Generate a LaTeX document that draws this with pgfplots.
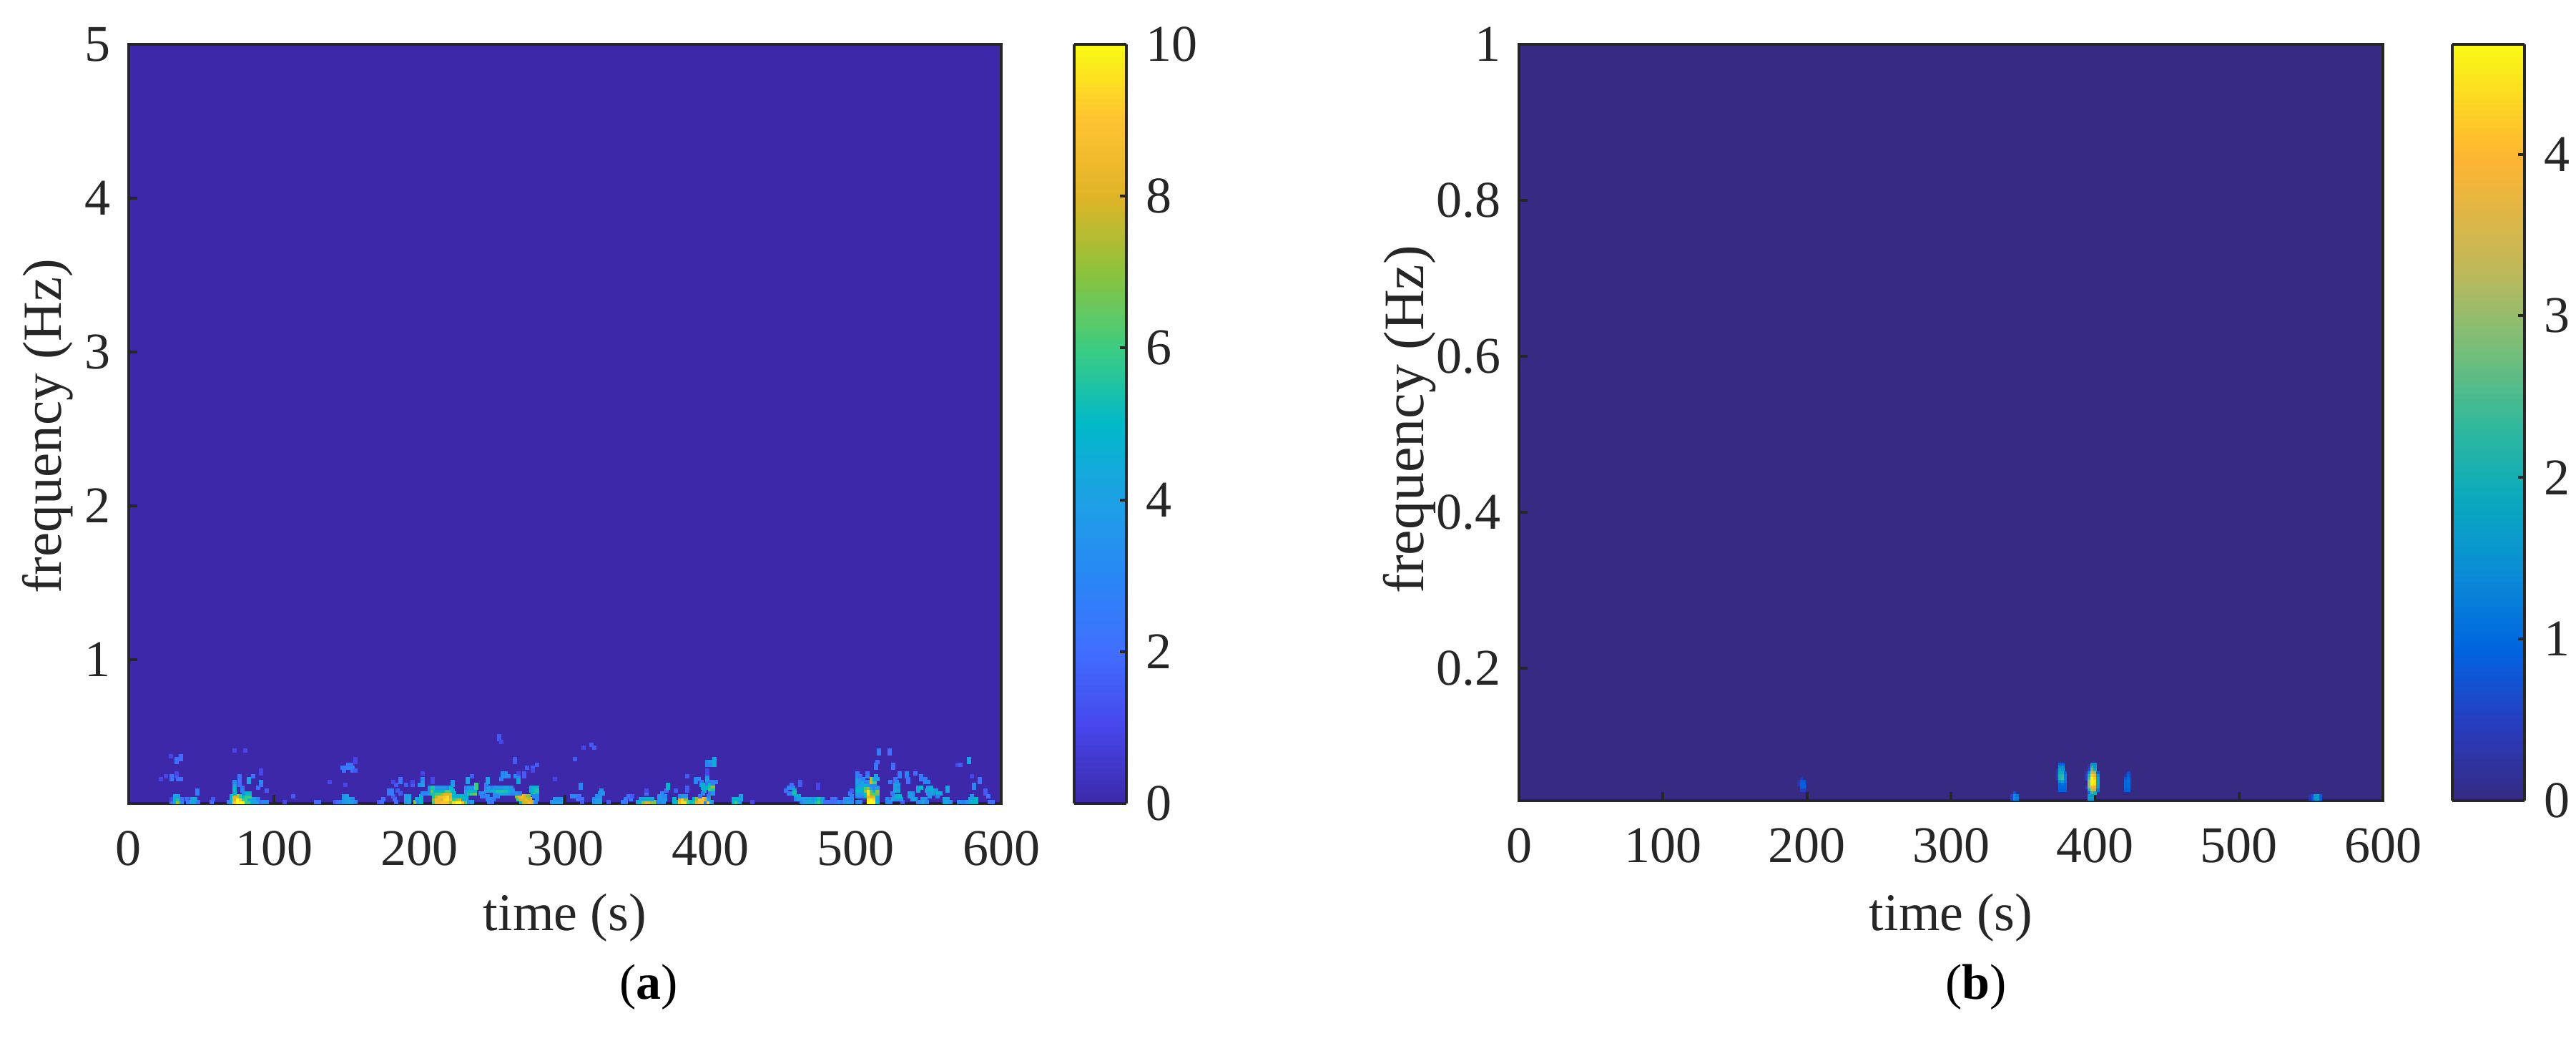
\documentclass[border=0pt]{standalone}
\usepackage{fontspec}
\setmainfont{Liberation Serif}
\usepackage{pgfplots}
\usepackage{pgfplotstable}
\pgfplotsset{compat=1.18}
\definecolor{axc}{HTML}{262626}
\pgfplotsset{
  colormap={pa}{rgb255(0cm)=(60,40,168); rgb255(1cm)=(70,70,235); rgb255(2cm)=(65,110,255); rgb255(3cm)=(40,135,245); rgb255(4cm)=(30,160,230); rgb255(5cm)=(0,185,200); rgb255(6cm)=(60,205,130); rgb255(7cm)=(140,195,60); rgb255(8cm)=(225,180,40); rgb255(9cm)=(255,195,50); rgb255(10cm)=(250,250,20)},
  colormap={pb}{rgb255(0cm)=(54,42,130); rgb255(1cm)=(40,60,190); rgb255(2cm)=(0,100,225); rgb255(3cm)=(10,140,215); rgb255(4cm)=(10,170,190); rgb255(5cm)=(50,185,155); rgb255(6cm)=(120,190,120); rgb255(7cm)=(190,185,90); rgb255(8.5cm)=(255,180,50); rgb255(10cm)=(250,250,20)},
  myax/.style={
    scale only axis, axis on top,
    axis line style={color=axc,line width=0.8pt},
    every tick/.style={color=axc,line width=0.8pt},
    tick align=inside, tick pos=left, major tick length=2.4pt,
    tick label style={font=\fontsize{14.4}{14.4}\selectfont,text=axc,/pgf/number format/assume math mode=true},
    xmin=0,xmax=600,xtick={0,100,...,600},
    xticklabel style={yshift=-4.2pt},
    yticklabel style={xshift=-1.6pt},
    xlabel={time (s)}, ylabel={frequency (Hz)},
  },
  mycb/.style={
    axis line style={color=axc,line width=0.8pt},
    every tick/.style={color=axc,line width=0.8pt},
    tick align=inside, ytick pos=right, major tick length=1.8pt,
    samples=129,
    yticklabel style={font=\fontsize{14.4}{14.4}\selectfont,text=axc,/pgf/number format/assume math mode=true,xshift=2pt},
  },
  mycells/.style={scatter, only marks, mark=square*, point meta=explicit,
    scatter/use mapped color={draw=mapped color,fill=mapped color,line width=0pt}},
}
\pgfplotstableread{
t f v
29.5 .074 2
31.8 .074 4
34 .074 7
36.3 .074 3
29.5 .093 1
31.8 .093 4.5
34 .093 5.5
36.3 .093 2
31.8 .111 4
34 .111 4
41 .074 2.5
43.3 .074 4
45.6 .074 4.5
47.9 .074 2
40 .093 2
43.3 .093 4
45.6 .093 4.5
47 .130 2.5
47 .148 2.5
57 .074 2
58 .093 1.5
22 .223 1
29.5 .223 2.5
34 .223 2
36 .223 2
25.5 .241 1
29.5 .241 2
33 .241 1.5
33 .260 1
33 .353 2
36 .353 2
36 .372 2
29 .372 1
33 .334 2
73 .409 1
80 .409 1
69 .074 3
71 .074 4
73 .074 9
75 .074 10
77 .074 10
79 .074 10
81 .074 6
83 .074 6
85 .074 5
87 .074 4
89 .074 4
91 .074 2
93 .074 3
95 .074 3
71 .093 5
73 .093 8
75 .093 10
77 .093 9
79 .093 6
81 .093 6
83 .093 5
85 .093 4
87 .093 4
89 .093 3
71 .111 5
73 .111 8
75 .111 8
77 .111 6
79 .111 5
81 .111 6
83 .111 6
73 .130 5
79 .130 3
81 .130 5
83 .130 5
73 .148 5
78 .148 3
73 .167 5
78 .167 2.5
73 .186 4
76 .186 2
73 .204 3
76 .204 2
76 .223 2
82.6 .223 4
76 .241 2
82.6 .204 4
85.5 .241 2
91 .186 2.5
91 .204 3
89 .167 2
91 .260 1
91 .279 1
95 .148 1.5
113 .111 1.5
107 .074 1
129 .074 2
131 .074 2
142 .074 1.5
144 .074 2
146 .074 2.5
148 .074 3.5
150 .074 4
152 .074 4
154 .074 4
156 .074 3
148 .093 3.5
150 .093 4
152 .093 4
154 .093 3.5
148 .111 3.5
150 .111 4
147 .297 2.5
150 .297 3
152 .297 3
154 .297 3
151 .316 2
153 .316 2
148 .279 2
154 .279 2
156 .279 1.5
156 .334 1
156 .353 1
138 .204 1
149 .186 1
172 .074 1.5
174 .074 2
175 .093 2
184 .074 2
183 .093 2
182 .111 1.5
191 .074 3.5
193 .074 4
191 .093 4
193 .093 4.5
191 .111 4
193 .111 4
187 .130 1.5
197 .074 7
199 .074 3
201 .074 5
201 .093 5
198 .093 4
201 .111 4.5
179 .130 2.5
181 .130 2.5
179 .148 2.5
181 .148 2.5
185 .148 1.5
184 .186 1.5
182 .204 1
187 .204 2.5
187 .223 2
191 .186 1.5
195 .186 1.5
195 .204 1
202 .186 4
200 .186 3.5
202 .204 3.5
202 .223 3
202 .260 1
209 .204 1
209 .223 1
210 .074 6
212 .074 8.5
214 .074 8.5
216 .074 9
218 .074 9
220 .074 9
222 .074 7
224 .074 9.5
226 .074 10
228 .074 10
230 .074 9
232 .074 6
234 .074 3
236 .074 4
210 .093 7
212 .093 8.5
214 .093 8.5
216 .093 8
218 .093 9.5
220 .093 9.5
222 .093 8.5
224 .093 6
226 .093 7
228 .093 8
230 .093 5
232 .093 4
210 .111 5.5
212 .111 7.5
214 .111 8.5
216 .111 8.5
218 .111 9
220 .111 9.5
222 .111 8
224 .111 5
226 .111 4.5
228 .111 5
230 .111 5
232 .111 5
202 .130 3
205 .130 3
207 .130 3.5
209 .130 5.5
212 .130 6
214 .130 6
216 .130 7
218 .130 8
220 .130 8
222 .130 8
224 .130 5
207 .148 3
209 .148 6.5
211 .148 5
213 .148 5
215 .148 5
217 .148 5
219 .148 6
221 .148 6
223 .148 5
207 .167 3.5
209 .167 5.5
212 .167 3.5
214 .167 3.5
216 .167 3.5
218 .167 3.5
220 .167 3
222 .167 5
223 .186 4
223 .204 3.5
232 .130 4
234 .130 5.5
236 .130 6
238 .130 6.5
232 .148 4
234 .148 5
236 .148 5
238 .148 5
232 .167 3
234 .167 3.5
236 .167 3.5
239 .167 6
239 .186 6
233 .204 4
233 .223 4
236 .241 1.5
242 .130 3
244 .130 3.5
243 .111 3
245 .111 2
247 .111 3
247 .093 3
249 .093 3
248 .074 3
250 .074 2
246 .148 4
248 .148 4.5
250 .148 4.5
246 .167 3
248 .167 4
250 .167 3
246 .186 2.5
247 .204 4
247 .223 4
252 .130 3.5
254 .130 4
256 .130 4.5
258 .130 4.5
260 .130 4
262 .130 3.5
264 .130 3
252 .148 5
254 .148 5.5
256 .148 5.5
258 .148 5.5
260 .148 5.5
262 .148 5
264 .148 3.5
253 .167 3.5
255 .167 3.5
257 .167 3.5
259 .167 4
261 .167 4
263 .167 3.5
252 .111 3
254 .111 3
251 .093 2.5
257 .241 3.5
259 .241 3.5
261 .241 3
257 .260 3
259 .260 3
256 .223 2.5
268 .223 4
266 .241 3
268 .241 3
268 .204 4.5
268 .260 1
265.5 .334 1.5
265.5 .353 1.5
274 .297 1.5
278 .297 1.5
278 .279 1
281 .316 1.5
272 .241 1.5
272 .260 1.5
277 .167 4
279 .167 5
281 .167 4.5
278 .130 5
280 .130 6
281 .130 5
277 .148 4
279 .148 5
281 .148 5.5
279 .111 3
281 .111 3
270 .074 5
272 .074 7.5
274 .074 8
276 .074 8.5
278 .074 8
268 .093 6
270 .093 8
272 .093 8
274 .093 8.5
276 .093 8
267 .111 7
269 .111 8
271 .111 8.5
273 .111 8
275 .111 7
267 .130 3.5
269 .130 3
280 .074 3
281 .093 3
291 .074 3.5
293 .074 4
295 .074 4
297 .074 4
293 .093 3.5
295 .093 3.5
297 .093 3.5
293 .223 1
254.6 .483 1.5
254.6 .502 1.5
256 .465 1
313 .427 1
318 .446 1.5
320 .427 1.5
307 .353 1.5
311 .167 3
311 .186 3
305 .111 3
308 .111 3
310 .111 2
309 .093 2
312 .093 2
312 .074 1.5
320 .074 3.5
322 .074 4
324 .074 4
320 .093 3
322 .093 4
324 .093 4
322 .111 3
324 .111 3.5
324 .130 3
326 .130 3.5
325 .148 3.5
330 .074 1.5
340 .074 2.5
342 .074 2.5
342 .093 2.5
345 .093 2.5
344 .111 2
346 .111 1.5
350 .074 4.5
352 .074 5
354 .074 7
356 .074 8
358 .074 8
360 .074 7
362 .074 7
352 .093 4
354 .093 4
356 .093 5
358 .093 5
360 .093 4
356 .130 2
356 .148 1
364 .074 3
366 .074 3
368 .074 3.5
365 .093 3.5
367 .093 3.5
369 .093 3.5
365 .111 3.5
367 .111 3.5
369 .111 3
367 .130 3
370 .148 2
371 .167 5
371 .186 5
376 .148 1.5
375 .074 5
377 .074 5
379 .074 8.5
381 .074 9.5
383 .074 9.5
385 .074 6
375 .093 5
379 .093 8
381 .093 9
383 .093 7
379 .111 3
381 .111 3.5
383 .111 3.5
384 .148 1.5
384 .167 1.5
384 .241 1.5
387 .074 5
389 .074 5.5
391 .074 8
393 .074 8.5
395 .074 9
397 .074 3
399 .074 9
401 .074 4
389 .093 5
391 .093 7
393 .093 9
395 .093 9
397 .093 8
399 .093 4
393 .111 2
399 .111 3
390 .223 3
392 .223 3
390 .204 3
394 .204 2
398 .204 3
400 .204 2.5
402 .204 2.5
404 .204 2.5
394 .186 4
396 .186 5
398 .186 2
400 .186 5
402 .186 3
395 .167 4.5
397 .167 5
400 .167 5.5
402 .167 7
396 .148 5
400 .148 6
402 .148 5.5
395 .130 3
400 .130 2
402 .130 3.5
398 .223 4
398 .241 3.5
398 .334 3
400 .334 3.5
403 .353 4
403 .334 4.5
403 .316 4.5
398 .316 3
400 .316 3
398 .279 1
398 .260 1
416 .074 5
418 .074 6
420 .074 4
416 .093 5
418 .093 5
421 .093 4
421 .111 4
429 .074 1
452 .148 2
454 .130 2.5
456 .130 2.5
454 .167 3
457 .167 3
456 .186 2
458 .148 5
458 .130 5.5
459 .111 4.5
461 .111 5
459 .093 3
461 .093 4
463 .093 4
465 .093 4
463 .074 3
465 .074 4
467 .074 4.5
469 .074 4.5
471 .074 4
473 .074 5.5
475 .074 6
477 .074 4.5
467 .093 4
469 .093 4.5
471 .093 3.5
473 .093 5
475 .093 5.5
477 .093 4
462 .204 1.5
462 .186 1.5
474 .167 1
474 .186 1
479 .074 2
481 .074 2
483 .074 2
485 .074 2
487 .074 2.5
489 .074 3
491 .074 2
493 .074 3.5
495 .074 4
497 .074 3.5
484 .093 2
486 .093 2
493 .093 3.5
495 .093 3.5
497 .093 3
496 .130 2.5
497 .111 3
497 .148 1.5
501 .074 3
503 .074 3
509 .074 10
511 .074 10
513 .074 10
515 .074 5
509 .093 9.5
511 .093 10
513 .093 9.5
515 .093 4
501 .111 3
503 .111 3
505 .111 2.5
507 .111 5
509 .111 8.5
511 .111 8
513 .111 8
515 .111 4.5
501 .130 4
503 .130 3.5
505 .130 4
507 .130 5
509 .130 9.5
511 .130 7
513 .130 6
515 .130 6.5
501 .148 5
503 .148 5
505 .148 4.5
507 .148 7
509 .148 9.5
511 .148 6.5
513 .148 4.5
515 .148 7
501 .167 5
503 .167 4.5
505 .167 5
507 .167 6
509 .167 7
511 .167 4
513 .167 3
515 .167 4
501 .186 3.5
503 .186 4
505 .186 4
507 .186 5
509 .186 4
511 .186 3
513 .186 3
501 .204 4
503 .204 3.5
505 .204 4.5
507 .204 3
509 .204 3
511 .204 8
513 .204 6
501 .223 4
503 .223 3.5
505 .223 3
511 .223 7.5
513 .223 4.5
515 .223 4
501 .241 3
503 .241 2
508 .241 3
514 .241 4
501 .260 2.5
508 .260 2
514 .297 2.5
514 .316 2.5
515 .334 2
516 .390 2.5
516 .409 2.5
523.5 .390 2
523.5 .409 2
525.5 .297 2
525.5 .316 2
522 .074 3
524 .074 3
532 .074 1.5
522 .093 3
525 .093 4
528 .093 3.5
531 .093 3.5
526 .111 3.5
528 .111 5
530 .111 5
525 .130 2.5
524 .204 2.5
527 .204 1.5
527 .223 2
527 .148 4.5
529 .148 4.5
527 .186 4.5
529 .186 4
528 .204 3
527 .167 4
529 .167 3.5
530 .241 2.5
535 .241 3
530 .260 2.5
535 .260 3
536 .204 2
536 .223 2
537 .111 4
539 .111 3.5
537 .130 4
539 .130 3.5
539 .093 4
541 .093 4
541 .260 2
545 .241 2.5
545 .223 2.5
548 .223 2.5
548 .204 3
550 .204 3
543 .167 4
545 .167 5
550 .167 3.5
552 .167 4
543 .148 4.5
549 .148 4
551 .148 5
553 .148 5
555 .148 3.5
550 .130 3.5
553 .130 4
556 .130 5
558 .130 4.5
551 .111 3.5
556 .111 3
546 .093 3.5
548 .093 3.5
543 .074 3
545 .074 3.5
547 .074 4
549 .074 3
561 .074 4
563 .074 4.5
565 .074 3.5
561 .093 4
563 .093 4
563 .148 4
563 .167 4
578 .353 4
578 .334 4
570 .316 1
572 .316 1.5
571 .074 3
573 .074 3
575 .074 3
577 .074 3.5
579 .074 4
581 .074 5
583 .074 5
579 .093 4
581 .093 4.5
583 .093 5
580 .111 3.5
581.5 .167 3
581.5 .186 3
585 .204 2
585 .223 2
580 .241 1
589 .148 1.5
589 .130 1.5
591 .111 2
592 .074 2
594 .074 2
}\dataA
\pgfplotstableread{
t f v
394 .0651 .3
394 .0615 .5
394 .0578 .5
394 .0468 .4
396 .0725 .4
396 .0688 .8
396 .0651 1.5
396 .0615 2.2
396 .0578 2.5
396 .0541 3
396 .0505 3
396 .0468 3
396 .0431 2
396 .0395 1
396 .0358 1.6
396 .0321 1.6
398 .0761 1.5
398 .0725 2.3
398 .0688 2.7
398 .0651 3.5
398 .0615 4.2
398 .0578 4.6
398 .0541 4.6
398 .0505 4.6
398 .0468 4.0
398 .0431 3.5
398 .0395 2.5
398 .0358 1.6
398 .0321 1.6
400 .0761 1.5
400 .0725 1.5
400 .0688 2
400 .0651 3
400 .0615 3.8
400 .0578 4.2
400 .0541 4.5
400 .0505 4.4
400 .0468 3.8
400 .0431 3.3
400 .0395 2
402 .0651 1
402 .0615 1.5
402 .0578 1.8
402 .0541 1.8
402 .0505 1.8
402 .0468 1.7
402 .0431 1.2
374 .0688 .4
374 .0651 .5
374 .0615 .6
374 .0578 .5
375.8 .0761 .9
375.8 .0725 1.4
375.8 .0688 1.7
375.8 .0651 1.9
375.8 .0615 2.1
375.8 .0578 2.1
375.8 .0541 1.5
375.8 .0505 1
375.8 .0468 1
375.8 .0431 .9
377.6 .0761 .9
377.6 .0725 1.4
377.6 .0688 1.6
377.6 .0651 1.9
377.6 .0615 2.3
377.6 .0578 2.4
377.6 .0541 1.8
377.6 .0505 1.1
377.6 .0468 1
377.6 .0431 .9
379.4 .0651 1
379.4 .0615 1.2
379.4 .0578 1.3
379.4 .0541 1.2
379.4 .0505 1
379.4 .0468 1
379.4 .0431 .9
421.6 .0615 .3
421.6 .0578 .7
421.6 .0541 1
421.6 .0505 1
421.6 .0468 1
421.6 .0431 .9
423.4 .0651 .6
423.4 .0615 .8
423.4 .0578 1
423.4 .0541 1.1
423.4 .0505 1
423.4 .0468 1
423.4 .0431 .9
194.4 .0541 .3
194.4 .0505 .4
196.2 .0578 .4
196.2 .0541 .8
196.2 .0505 .9
196.2 .0468 .9
196.2 .0431 .5
198 .0541 .8
198 .0505 .9
198 .0468 .9
198 .0431 .5
342.4 .0358 .6
342.4 .0321 .6
344.2 .0395 .8
344.2 .0358 1.4
344.2 .0321 1.4
346 .0358 1.2
346 .0321 1.2
549.6 .0358 .3
549.6 .0321 .3
551.4 .0358 .7
551.4 .0321 .7
553.2 .0358 1.6
553.2 .0321 1.6
555 .0358 1.6
555 .0321 1.6
556.8 .0358 .8
556.8 .0321 .8
}\dataB
\begin{document}
\begin{tikzpicture}
\path[use as bounding box] (0,0) rectangle (720.4pt,291pt);
\begin{axis}[myax,
  at={(36pt,66.4pt)},anchor=south west,width=244pt,height=212.2pt,
  ymin=0.065,ymax=5,ytick={1,2,3,4,5},
  every axis x label/.style={at={(axis description cs:0.5,-0.151)},anchor=center,font=\fontsize{14.8}{14.8}\selectfont,text=axc},
  every axis y label/.style={at={(axis description cs:-0.0926,0.497)},rotate=90,anchor=center,font=\fontsize{15.4}{15.4}\selectfont,text=axc},
  axis background/.style={fill={rgb,255:red,60;green,40;blue,168}},
  colormap name=pa,point meta min=0,point meta max=10,
  colorbar sampled,
  colorbar style={mycb,at={(1.0836,1)},anchor=north west,width=14.6pt,height=212.2pt,ytick={0,2,4,6,8,10}},
]
\addplot[mycells,mark size=0.5pt] table[x=t,y=f,meta=v] {\dataA};
\end{axis}
\begin{axis}[myax,
  at={(424.8pt,67.2pt)},anchor=south west,width=241.6pt,height=211.4pt,
  ymin=0.03,ymax=1,ytick={0.2,0.4,0.6,0.8,1},
  every axis x label/.style={at={(axis description cs:0.5,-0.155)},anchor=center,font=\fontsize{14.8}{14.8}\selectfont,text=axc},
  every axis y label/.style={at={(axis description cs:-0.127,0.504)},rotate=90,anchor=center,font=\fontsize{16}{16}\selectfont,text=axc},
  axis background/.style={fill={rgb,255:red,54;green,42;blue,130}},
  colormap name=pb,point meta min=0,point meta max=4.68,
  colorbar sampled,
  colorbar style={mycb,at={(1.08,1)},anchor=north west,width=20.2pt,height=211.4pt,ytick={0,1,2,3,4}},
]
\addplot[mycells,mark size=0.37pt] table[x=t,y=f,meta=v] {\dataB};
\end{axis}
\node[font=\fontsize{14}{14}\selectfont] at (181.4pt,15pt) {(\textbf{a})};
\node[font=\fontsize{14}{14}\selectfont] at (552.6pt,15pt) {(\textbf{b})};
\end{tikzpicture}
\end{document}
